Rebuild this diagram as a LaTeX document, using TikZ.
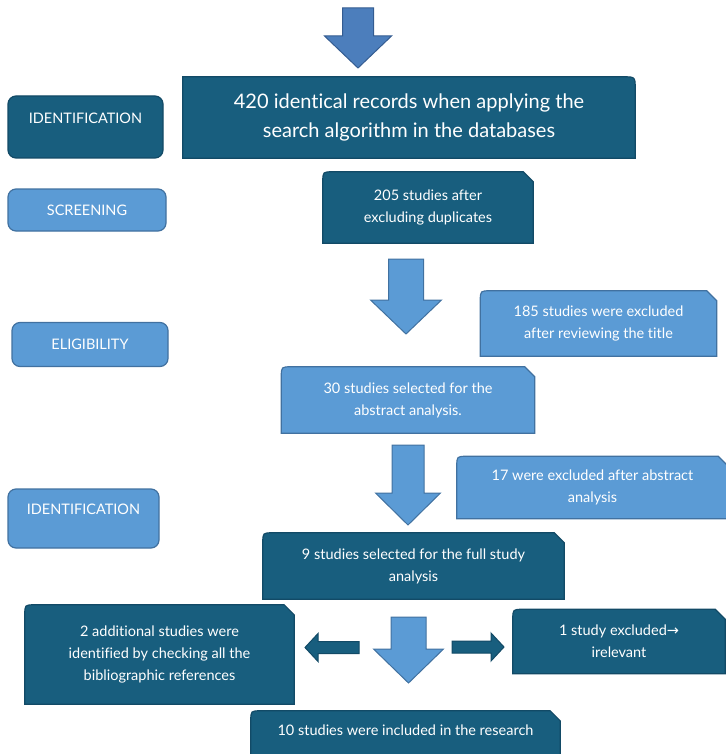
\documentclass[tikz,border=0pt]{standalone}
\usepackage{fontspec}
\setmainfont{Lato}[Ligatures=NoCommon]
\newfontfamily\flechafont{DejaVu Sans}
\usetikzlibrary{backgrounds}

\definecolor{azuloscuro}{RGB}{24,94,126}
\definecolor{bordeoscuro}{RGB}{18,74,102}
\definecolor{azulclaro}{RGB}{91,155,213}
\definecolor{bordeclaro}{RGB}{65,113,160}
\definecolor{azulmedio}{RGB}{76,126,188}
\definecolor{bordemedio}{RGB}{52,92,145}

% Caja con esquina superior izquierda redondeada y superior derecha cortada
\newcommand{\cajacorte}[2]{%
  \begin{pgfonlayer}{background}
  \filldraw[#2] (#1.south west) -- ([yshift=-10pt]#1.north west)
    .. controls (#1.north west) .. ([xshift=10pt]#1.north west)
    -- ([xshift=-10pt]#1.north east) -- ([yshift=-10pt]#1.north east)
    -- (#1.south east) -- cycle;
  \end{pgfonlayer}}

% Flecha de bloque hacia abajo: x, arriba, medio cuerpo, media punta, inicio punta, punta, estilo
\newcommand{\flechabaja}[7]{%
  \filldraw[#7] (#1-#3,#2) -- (#1+#3,#2) -- (#1+#3,#5) -- (#1+#4,#5)
    -- (#1,#6) -- (#1-#4,#5) -- (#1-#3,#5) -- cycle;}

\begin{document}
\begin{tikzpicture}[x=1pt, y=-1pt,
    texto/.style={text=white, align=center, inner sep=0pt, font=\fontsize{14.5}{22}\selectfont},
    oscura/.style={texto, fill=azuloscuro, draw=bordeoscuro, line width=1.2pt},
    clara/.style={texto, fill=azulclaro, draw=bordeclaro, line width=1.2pt},
    etiqueta/.style={rounded corners=8pt},
    flechaclara/.style={fill=azulclaro, draw=bordeclaro, line width=1pt, line join=miter},
    flechaoscura/.style={fill=azuloscuro, draw=bordeoscuro, line width=1pt, line join=miter}]
    \clip (0,0) rectangle (725,754);

    % Etapas a la izquierda
    \node[oscura, etiqueta, minimum width=155pt, minimum height=62pt] (ident) at (85.5,127) {IDENTIFICATION\\[-4pt] \phantom{X}};
    \node[clara, etiqueta, minimum width=158pt, minimum height=42pt] (scree) at (87,210) {SCREENING};
    \node[clara, etiqueta, minimum width=156pt, minimum height=44pt] (eleg) at (90,344.5) {ELIGIBILITY};
    \node[clara, etiqueta, minimum width=151pt, minimum height=59pt] (identb) at (83.5,518.5) {IDENTIFICATION\\[-4pt] \phantom{X}};

    % Caja de registros
    \node[texto, font=\fontsize{20}{29}\selectfont, minimum width=452pt, minimum height=81pt] (regis) at (409,117.5)
        {420 identical records when applying the\\search algorithm in the databases};
    \begin{pgfonlayer}{background}
    \filldraw[oscura] (regis.south west) -- (regis.north west) -- ([xshift=-12pt]regis.north east)
        .. controls (regis.north east) .. ([yshift=-12pt]regis.north east) -- (regis.south east) -- cycle;
    \end{pgfonlayer}

    % Cajas del proceso
    \node[texto, minimum width=210pt, minimum height=71pt] (dupli) at (428,207.5) {205 studies after\\excluding duplicates};
    \cajacorte{dupli}{oscura}
    \node[texto, minimum width=236pt, minimum height=65pt] (titul) at (598.5,323.5) {185 studies were excluded\\after reviewing the title};
    \cajacorte{titul}{clara}
    \node[texto, minimum width=253pt, minimum height=66pt] (resum) at (408,400) {30 studies selected for the\\abstract analysis.};
    \cajacorte{resum}{clara}
    \node[texto, minimum width=271pt, minimum height=62pt] (exres) at (592.5,487.5) {17 were excluded after abstract\\analysis};
    \cajacorte{exres}{clara}
    \node[texto, minimum width=301pt, minimum height=66pt] (compl) at (413.5,566) {9 studies selected for the full study\\analysis};
    \cajacorte{compl}{oscura}
    \node[texto, minimum width=269pt, minimum height=99pt] (adici) at (159.5,654.5) {2 additional studies were\\identified by checking all the\\bibliographic references};
    \cajacorte{adici}{oscura}
    \node[texto, minimum width=212pt, minimum height=64pt] (irrel) at (619,641.5) {1 study excluded{\flechafont →}\\irelevant};
    \cajacorte{irrel}{oscura}
    \node[texto, minimum width=309pt, minimum height=56pt] (inclu) at (405.5,739) {10 studies were included in the research\\[-4pt] \phantom{X}};
    \cajacorte{inclu}{oscura}

    % Flechas hacia abajo
    \flechabaja{358}{8}{15.5}{33.5}{36}{68}{fill=azulmedio, draw=bordemedio, line width=1pt, line join=miter}
    \flechabaja{406}{259}{17.5}{35.5}{300}{334}{flechaclara}
    \flechabaja{408}{445}{16}{32.5}{493}{525}{flechaclara}
    \flechabaja{408.5}{617}{17.5}{35}{649}{683}{flechaclara}

    % Flechas laterales
    \filldraw[flechaoscura] (359,641.5) -- (318,641.5) -- (318,633.5) -- (305,647.5)
        -- (318,661.5) -- (318,653.5) -- (359,653.5) -- cycle;
    \filldraw[flechaoscura] (452,641) -- (491,641) -- (491,633) -- (504,647)
        -- (491,661) -- (491,653) -- (452,653) -- cycle;

\end{tikzpicture}
\end{document}
